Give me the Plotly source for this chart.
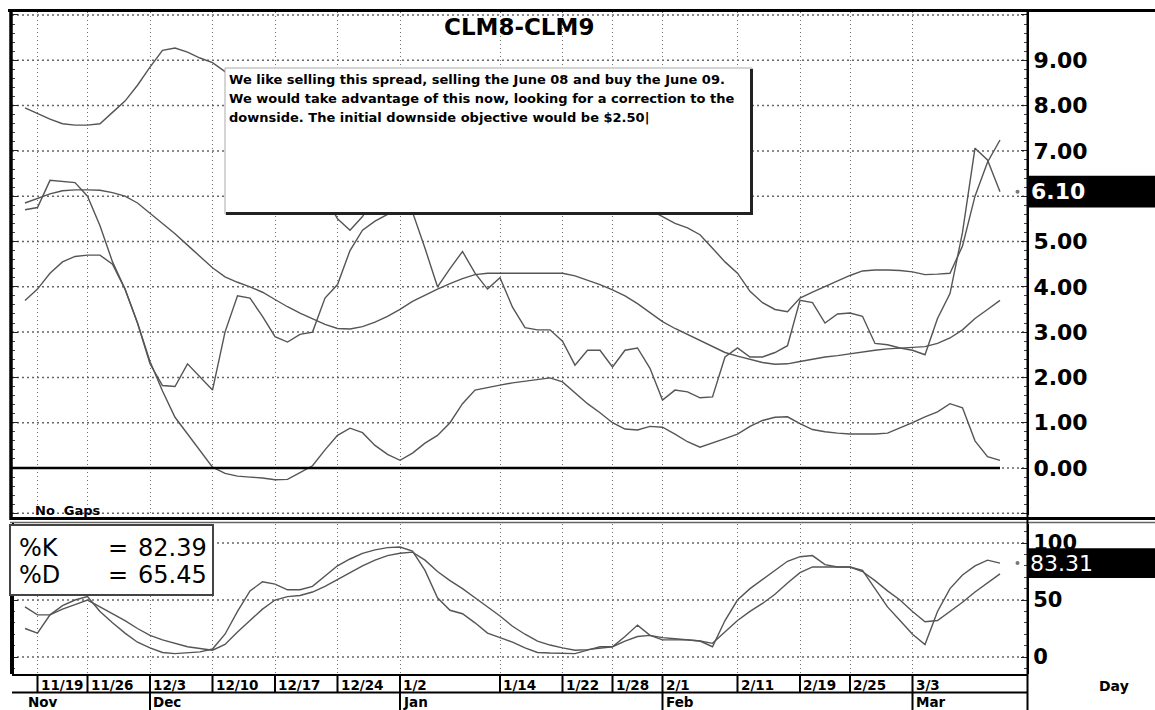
import plotly.graph_objects as go

# ---------------- data ----------------
tick_pos = [1, 5, 10, 15, 20, 25, 30, 38, 43, 47, 51, 57, 62, 66, 71]
tick_labels = ["11/19", "11/26", "12/3", "12/10", "12/17", "12/24", "1/2", "1/14",
               "1/22", "1/28", "2/1", "2/11", "2/19", "2/25", "3/3"]
month_pos = [0, 10, 30, 51, 71]
month_labels = ["Nov", "Dec", "Jan", "Feb", "Mar"]

price = [5.7, 5.75, 6.35, 6.32, 6.3, 6.0, 5.35, 4.55, 3.95, 3.2,
         2.3, 1.82, 1.8, 2.3, 2.0, 1.72, 3.0, 3.8, 3.75, 3.35,
         2.9, 2.78, 2.95, 3.0, 3.75, 4.05, 4.8, 5.25, 5.45, 5.6,
         5.9, 5.65, 4.85, 4.0, 4.4, 4.78, 4.3, 3.95, 4.2, 3.55,
         3.1, 3.05, 3.05, 2.8, 2.27, 2.6, 2.6, 2.23, 2.6, 2.65,
         2.2, 1.5, 1.72, 1.68, 1.55, 1.57, 2.45, 2.65, 2.45, 2.45,
         2.55, 2.7, 3.7, 3.65, 3.2, 3.4, 3.42, 3.35, 2.75, 2.72,
         2.65, 2.6, 2.5, 3.3, 3.85, 5.2, 7.06, 6.8, 6.1]
mid_band = [5.85, 5.95, 6.05, 6.12, 6.14, 6.14, 6.13, 6.08, 6.0, 5.85,
            5.63, 5.4, 5.17, 4.92, 4.66, 4.42, 4.22, 4.1, 4.0, 3.88,
            3.72, 3.56, 3.42, 3.3, 3.17, 3.08, 3.07, 3.12, 3.22, 3.35,
            3.5, 3.68, 3.82, 3.95, 4.07, 4.18, 4.27, 4.3, 4.3, 4.3,
            4.3, 4.3, 4.3, 4.3, 4.24, 4.14, 4.05, 3.93, 3.8, 3.63,
            3.43, 3.23, 3.08, 2.95, 2.82, 2.68, 2.55, 2.47, 2.4, 2.33,
            2.29, 2.3, 2.35, 2.4, 2.45, 2.48, 2.52, 2.57, 2.6, 2.63,
            2.65, 2.66, 2.68, 2.75, 2.87, 3.05, 3.3, 3.5, 3.7]
upper_band = [7.95, 7.82, 7.7, 7.6, 7.57, 7.57, 7.6, 7.85, 8.1, 8.45,
              8.85, 9.22, 9.27, 9.18, 9.05, 8.95, 8.75, 8.6, 8.4, 8.1,
              7.7, 7.3, 6.9, 6.5, 6.0, 5.5, 5.25, 5.55, 6.0, 6.4,
              6.7, 6.8, 6.9, 7.0, 7.0, 6.9, 6.8, 6.7, 6.6, 6.5,
              6.4, 6.3, 6.3, 6.2, 6.2, 6.1, 6.0, 6.0, 5.9, 5.8,
              5.7, 5.55, 5.4, 5.3, 5.15, 4.85, 4.55, 4.3, 3.9, 3.65,
              3.5, 3.45, 3.75, 3.88, 4.0, 4.12, 4.25, 4.35, 4.37, 4.37,
              4.36, 4.33, 4.27, 4.28, 4.3, 4.9, 6.0, 6.75, 7.24]
lower_band = [3.7, 3.95, 4.3, 4.55, 4.67, 4.7, 4.7, 4.5, 3.95, 3.2,
              2.35, 1.7, 1.12, 0.75, 0.4, 0.02, -0.12, -0.18, -0.2, -0.22,
              -0.26, -0.25, -0.1, 0.05, 0.4, 0.72, 0.88, 0.78, 0.5, 0.3,
              0.17, 0.33, 0.55, 0.72, 1.0, 1.42, 1.72, 1.78, 1.83, 1.88,
              1.92, 1.96, 1.99, 1.9, 1.66, 1.42, 1.22, 1.0, 0.86, 0.84,
              0.92, 0.9, 0.75, 0.58, 0.46, 0.55, 0.65, 0.75, 0.92, 1.05,
              1.12, 1.13, 0.98, 0.85, 0.8, 0.77, 0.75, 0.75, 0.75, 0.77,
              0.88, 1.0, 1.13, 1.24, 1.42, 1.33, 0.6, 0.25, 0.17]
stoch_k = [25, 21, 37, 45, 50, 53, 40, 30, 21, 13,
           8, 4, 3, 3.5, 4.5, 7, 20, 40, 58, 66,
           64, 59, 59, 62, 71, 80, 86, 91, 94, 96,
           96.5, 93, 76, 52, 41, 38, 30, 21, 17, 13,
           8, 4, 3.5, 3.5, 3, 6, 9, 9, 18, 28,
           19, 15, 15, 15, 14, 9, 32, 50, 60, 68,
           76, 84, 88, 89, 81, 79, 79, 76, 60, 44,
           32, 20, 11, 40, 60, 72, 80, 85, 82.4]
stoch_d = [44, 37, 37, 42, 46, 50, 44, 38, 32, 25,
           19, 15, 12, 9, 7.5, 6, 11, 22, 32, 42,
           50, 53, 54, 57, 62, 68, 74, 80, 85, 89,
           91, 92, 85, 75, 67, 60, 52, 44, 36, 27,
           20, 14, 10.5, 8, 6, 6.5, 8, 9, 14, 18,
           19, 17, 16, 15, 14, 12, 22, 32, 40, 47,
           55, 65, 74, 79, 79, 79, 79, 75, 67, 58,
           50, 40, 31, 32, 40, 48, 57, 65, 73]

price_y_ticks = [-1, 0, 1, 2, 3, 4, 5, 6, 7, 8, 9, 10]
price_y_text = ["", "0.00", "1.00", "2.00", "3.00", "4.00", "5.00", "", "7.00", "8.00", "9.00", ""]
stoch_y_ticks = [0, 50, 100]
stoch_y_text = ["0", "50", "100"]

title_text = "CLM8-CLM9"
note_lines = ["We like selling this spread, selling the June 08 and buy the June 09.",
              "We would take advantage of this now, looking for a correction to the",
              "downside. The initial downside objective would be $2.50|"]
last_price_label = "6.10"
last_stoch_label = "83.31"
k_label, d_label = "82.39", "65.45"

# ---------------- layout helpers ----------------
W, H = 1155, 710
def px(x):
    return x / W
def py(y):
    return 1 - y / H

FONT = "DejaVu Sans, Verdana, sans-serif"
LINE_COL = "#555555"
GRID_COL = "#707070"
GRID_DASH = "1px,3px"
xr = [-1.04, 80.16]
xdom = [px(12), px(1027)]

idx = list(range(len(price)))
fig = go.Figure()

# horizontal dotted grid lines along the value ticks (drawn first, underneath)
for v in price_y_ticks:
    fig.add_trace(go.Scatter(x=xr, y=[v, v], mode="lines", xaxis="x", yaxis="y",
                             line=dict(color="#666666", width=1.5, dash="2px,3px"),
                             showlegend=False, hoverinfo="skip"))
for v in stoch_y_ticks:
    fig.add_trace(go.Scatter(x=xr, y=[v, v], mode="lines", xaxis="x2", yaxis="y2",
                             line=dict(color="#666666", width=1.5, dash="2px,3px"),
                             showlegend=False, hoverinfo="skip"))

for s in [upper_band, mid_band, lower_band, price]:
    fig.add_trace(go.Scatter(x=idx, y=s, mode="lines", xaxis="x", yaxis="y",
                             line=dict(color=LINE_COL, width=1.4), showlegend=False,
                             hoverinfo="skip"))
for s in [stoch_d, stoch_k]:
    fig.add_trace(go.Scatter(x=idx, y=s, mode="lines", xaxis="x2", yaxis="y2",
                             line=dict(color=LINE_COL, width=1.4), showlegend=False,
                             hoverinfo="skip"))
# small pointer dots next to the last-value boxes
fig.add_trace(go.Scatter(x=[idx[-1] + 1.4], y=[price[-1]], mode="markers", xaxis="x", yaxis="y",
                         marker=dict(size=4, color="#777"), showlegend=False, hoverinfo="skip"))
fig.add_trace(go.Scatter(x=[idx[-1] + 1.4], y=[stoch_k[-1]], mode="markers", xaxis="x2", yaxis="y2",
                         marker=dict(size=4, color="#777"), showlegend=False, hoverinfo="skip"))

common_x = dict(domain=xdom, range=xr, tickmode="array", tickvals=tick_pos, showticklabels=False,
                showgrid=True, gridcolor=GRID_COL, griddash=GRID_DASH, gridwidth=1,
                zeroline=False, ticks="", showline=False, fixedrange=True)

fig.update_layout(
    width=W, height=H, margin=dict(l=0, r=0, t=0, b=0),
    paper_bgcolor="white", plot_bgcolor="white",
    xaxis=dict(anchor="y", **common_x),
    xaxis2=dict(anchor="y2", matches="x", **common_x),
    yaxis=dict(domain=[py(515), py(12)], range=[-1.037, 10.066], side="right", anchor="x",
               tickmode="array", tickvals=price_y_ticks, ticktext=price_y_text,
               tickfont=dict(family=FONT, size=22, color="black", weight="bold"),
               ticks="inside", ticklen=6, tickcolor="#222", tickwidth=1,
               minor=dict(ticks="inside", ticklen=3, tick0=0, dtick=0.2, tickcolor="#444", showgrid=False),
               showgrid=False, zeroline=False,
               showline=True, linecolor="black", linewidth=2, mirror="ticks", fixedrange=True),
    yaxis2=dict(domain=[py(674), py(524)], range=[-14.9, 116.7], side="right", anchor="x2",
                tickmode="array", tickvals=stoch_y_ticks, ticktext=stoch_y_text,
                tickfont=dict(family=FONT, size=21, color="black", weight="bold"),
                ticks="inside", ticklen=6, tickcolor="#222", tickwidth=1,
                minor=dict(ticks="inside", ticklen=3, tick0=0, dtick=10, tickcolor="#444", showgrid=False),
                showgrid=False, zeroline=False,
                showline=True, linecolor="black", linewidth=2, mirror="ticks", fixedrange=True),
)

shapes = []
def pline(x0, y0, x1, y1, w=2, c="black"):
    shapes.append(dict(type="line", xref="paper", yref="paper", x0=px(x0), y0=py(y0),
                       x1=px(x1), y1=py(y1), line=dict(color=c, width=w), layer="above"))

# zero line of the spread
shapes.append(dict(type="line", xref="x", yref="y", x0=xr[0], x1=idx[-1], y0=0, y1=0,
                   line=dict(color="black", width=2.5), layer="above"))

# frame
pline(8, 10.5, 1155, 10.5, 3)
pline(11, 10, 11, 520, 3.5)
pline(10, 518.5, 1155, 518.5, 3)
pline(10, 522.5, 1155, 522.5, 1.5, "#666")
pline(13, 523, 13, 675, 2)
pline(12, 675, 1027, 675, 2)
pline(12, 692.5, 1027, 692.5, 2)
pline(1027.5, 10, 1027.5, 710, 2)

# tick row separators and month separators
for p in tick_pos:
    shapes.append(dict(type="line", xref="x", yref="paper", x0=p, x1=p, y0=py(692), y1=py(675),
                       line=dict(color="black", width=2), layer="above"))
for p in month_pos[1:]:
    shapes.append(dict(type="line", xref="x", yref="paper", x0=p, x1=p, y0=py(710), y1=py(692),
                       line=dict(color="black", width=2), layer="above"))

# comment box with shadow
shapes.append(dict(type="rect", xref="paper", yref="paper", x0=px(225), x1=px(752), y0=py(214), y1=py(68),
                   fillcolor="white", line=dict(color="#aaa", width=1), layer="above"))
pline(751.5, 69, 751.5, 215, 3, "#222")
pline(226, 213.5, 753, 213.5, 3, "#222")

# legend box of the stochastics
shapes.append(dict(type="rect", xref="paper", yref="paper", x0=px(10), x1=px(213), y0=py(595), y1=py(525),
                   fillcolor="white", line=dict(color="#444", width=2), layer="above"))

# last-value boxes
shapes.append(dict(type="rect", xref="paper", yref="y", x0=px(1028), x1=1.0,
                   y0=price[-1] - 0.35, y1=price[-1] + 0.35, fillcolor="black",
                   line=dict(width=0), layer="above"))
shapes.append(dict(type="rect", xref="paper", yref="y2", x0=px(1028), x1=1.0,
                   y0=stoch_k[-1] - 13, y1=stoch_k[-1] + 13, fillcolor="black",
                   line=dict(width=0), layer="above"))

fig.update_layout(shapes=shapes)

ann = []
def text(x, y, s, size, bold=False, color="black", xanchor="left", xref="paper", yref="paper", xshift=0):
    ann.append(dict(x=x, y=y, xref=xref, yref=yref, text=s, showarrow=False, xanchor=xanchor,
                    yanchor="middle", xshift=xshift,
                    font=dict(family=FONT, size=size, color=color, weight="bold" if bold else "normal")))

text(px(519), py(27), title_text, 23, bold=True, xanchor="center")
for i, line in enumerate(note_lines):
    text(px(227), py(80 + 18.5 * i), line, 13, bold=True)
text(px(33), py(510), "No&nbsp;&nbsp;Gaps", 13, bold=True)

text(px(17), py(548), "%K", 24)
text(px(106), py(548), "=", 24)
text(px(136), py(548), k_label, 24)
text(px(17), py(575), "%D", 24)
text(px(106), py(575), "=", 24)
text(px(136), py(575), d_label, 24)

ann.append(dict(x=px(1029), y=price[-1], xref="paper", yref="y", text=last_price_label, showarrow=False,
                xanchor="left", yanchor="middle",
                font=dict(family=FONT, size=22, color="white", weight="bold")))
ann.append(dict(x=px(1028), y=stoch_k[-1], xref="paper", yref="y2", text=last_stoch_label, showarrow=False,
                xanchor="left", yanchor="middle",
                font=dict(family=FONT, size=22, color="white")))

for p, lab in zip(tick_pos, tick_labels):
    text(p, py(684.5), lab, 13.5, bold=True, xref="x", xshift=1)
for p, lab in zip(month_pos, month_labels):
    text(p, py(702), lab, 13.5, bold=True, xref="x", xshift=1)
text(px(1114), py(686), "Day", 14, bold=True, xanchor="center")

fig.update_layout(annotations=ann)
fig.write_html("out.html", config={"displayModeBar": False, "staticPlot": True},
               post_script="document.body.style.margin='0px';document.body.style.overflow='hidden';")
